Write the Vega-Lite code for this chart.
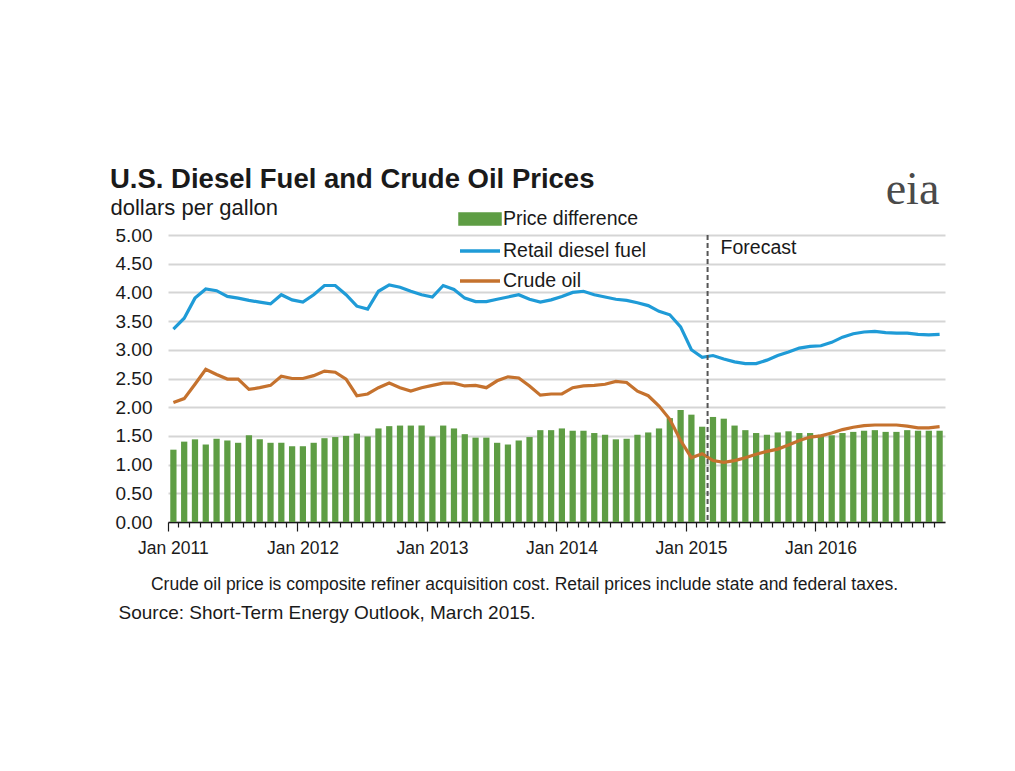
{
  "$schema": "https://vega.github.io/schema/vega-lite/v6.json",
  "width": 777,
  "height": 287,
  "autosize": {"type": "none"},
  "padding": {"left": 168, "top": 235, "right": 70, "bottom": 249},
  "background": "white",
  "config": {"font": "Liberation Sans", "view": {"stroke": null}},
  "title": {
    "text": "U.S. Diesel Fuel and Crude Oil Prices",
    "anchor": "start",
    "frame": "group",
    "dx": -58,
    "offset": -27,
    "font": "Liberation Sans",
    "fontSize": 27.5,
    "fontWeight": "bold",
    "color": "#1a1a1a"
  },
  "datasets": {
    "prices": [
      {"m": "2011-01", "diff": 1.26, "retail": 3.36, "crude": 2.08},
      {"m": "2011-02", "diff": 1.40, "retail": 3.55, "crude": 2.15},
      {"m": "2011-03", "diff": 1.44, "retail": 3.90, "crude": 2.40},
      {"m": "2011-04", "diff": 1.35, "retail": 4.06, "crude": 2.66},
      {"m": "2011-05", "diff": 1.45, "retail": 4.03, "crude": 2.57},
      {"m": "2011-06", "diff": 1.42, "retail": 3.93, "crude": 2.49},
      {"m": "2011-07", "diff": 1.38, "retail": 3.90, "crude": 2.49},
      {"m": "2011-08", "diff": 1.51, "retail": 3.86, "crude": 2.31},
      {"m": "2011-09", "diff": 1.44, "retail": 3.83, "crude": 2.34},
      {"m": "2011-10", "diff": 1.38, "retail": 3.80, "crude": 2.38},
      {"m": "2011-11", "diff": 1.38, "retail": 3.96, "crude": 2.54},
      {"m": "2011-12", "diff": 1.32, "retail": 3.87, "crude": 2.50},
      {"m": "2012-01", "diff": 1.32, "retail": 3.83, "crude": 2.50},
      {"m": "2012-02", "diff": 1.38, "retail": 3.96, "crude": 2.55},
      {"m": "2012-03", "diff": 1.46, "retail": 4.12, "crude": 2.63},
      {"m": "2012-04", "diff": 1.48, "retail": 4.12, "crude": 2.61},
      {"m": "2012-05", "diff": 1.50, "retail": 3.96, "crude": 2.49},
      {"m": "2012-06", "diff": 1.54, "retail": 3.76, "crude": 2.20},
      {"m": "2012-07", "diff": 1.49, "retail": 3.71, "crude": 2.23},
      {"m": "2012-08", "diff": 1.63, "retail": 4.02, "crude": 2.34},
      {"m": "2012-09", "diff": 1.67, "retail": 4.13, "crude": 2.42},
      {"m": "2012-10", "diff": 1.68, "retail": 4.09, "crude": 2.34},
      {"m": "2012-11", "diff": 1.68, "retail": 4.02, "crude": 2.28},
      {"m": "2012-12", "diff": 1.68, "retail": 3.96, "crude": 2.34},
      {"m": "2013-01", "diff": 1.49, "retail": 3.92, "crude": 2.38},
      {"m": "2013-02", "diff": 1.68, "retail": 4.12, "crude": 2.42},
      {"m": "2013-03", "diff": 1.63, "retail": 4.05, "crude": 2.42},
      {"m": "2013-04", "diff": 1.53, "retail": 3.90, "crude": 2.37},
      {"m": "2013-05", "diff": 1.47, "retail": 3.84, "crude": 2.38},
      {"m": "2013-06", "diff": 1.47, "retail": 3.84, "crude": 2.34},
      {"m": "2013-07", "diff": 1.38, "retail": 3.88, "crude": 2.46},
      {"m": "2013-08", "diff": 1.35, "retail": 3.92, "crude": 2.53},
      {"m": "2013-09", "diff": 1.42, "retail": 3.96, "crude": 2.51},
      {"m": "2013-10", "diff": 1.48, "retail": 3.88, "crude": 2.37},
      {"m": "2013-11", "diff": 1.60, "retail": 3.83, "crude": 2.21},
      {"m": "2013-12", "diff": 1.60, "retail": 3.87, "crude": 2.23},
      {"m": "2014-01", "diff": 1.63, "retail": 3.93, "crude": 2.23},
      {"m": "2014-02", "diff": 1.59, "retail": 4.00, "crude": 2.34},
      {"m": "2014-03", "diff": 1.59, "retail": 4.02, "crude": 2.37},
      {"m": "2014-04", "diff": 1.55, "retail": 3.96, "crude": 2.38},
      {"m": "2014-05", "diff": 1.52, "retail": 3.92, "crude": 2.40},
      {"m": "2014-06", "diff": 1.44, "retail": 3.88, "crude": 2.45},
      {"m": "2014-07", "diff": 1.45, "retail": 3.86, "crude": 2.43},
      {"m": "2014-08", "diff": 1.52, "retail": 3.82, "crude": 2.28},
      {"m": "2014-09", "diff": 1.56, "retail": 3.77, "crude": 2.20},
      {"m": "2014-10", "diff": 1.63, "retail": 3.67, "crude": 2.02},
      {"m": "2014-11", "diff": 1.81, "retail": 3.61, "crude": 1.79},
      {"m": "2014-12", "diff": 1.95, "retail": 3.40, "crude": 1.42},
      {"m": "2015-01", "diff": 1.87, "retail": 3.00, "crude": 1.12},
      {"m": "2015-02", "diff": 1.66, "retail": 2.87, "crude": 1.19},
      {"m": "2015-03", "diff": 1.83, "retail": 2.90, "crude": 1.07},
      {"m": "2015-04", "diff": 1.80, "retail": 2.84, "crude": 1.04},
      {"m": "2015-05", "diff": 1.68, "retail": 2.79, "crude": 1.07},
      {"m": "2015-06", "diff": 1.60, "retail": 2.76, "crude": 1.12},
      {"m": "2015-07", "diff": 1.55, "retail": 2.76, "crude": 1.18},
      {"m": "2015-08", "diff": 1.52, "retail": 2.82, "crude": 1.23},
      {"m": "2015-09", "diff": 1.56, "retail": 2.90, "crude": 1.27},
      {"m": "2015-10", "diff": 1.58, "retail": 2.96, "crude": 1.34},
      {"m": "2015-11", "diff": 1.55, "retail": 3.03, "crude": 1.42},
      {"m": "2015-12", "diff": 1.55, "retail": 3.06, "crude": 1.48},
      {"m": "2016-01", "diff": 1.52, "retail": 3.07, "crude": 1.50},
      {"m": "2016-02", "diff": 1.51, "retail": 3.13, "crude": 1.55},
      {"m": "2016-03", "diff": 1.55, "retail": 3.22, "crude": 1.61},
      {"m": "2016-04", "diff": 1.57, "retail": 3.28, "crude": 1.65},
      {"m": "2016-05", "diff": 1.59, "retail": 3.31, "crude": 1.68},
      {"m": "2016-06", "diff": 1.60, "retail": 3.32, "crude": 1.69},
      {"m": "2016-07", "diff": 1.57, "retail": 3.30, "crude": 1.69},
      {"m": "2016-08", "diff": 1.57, "retail": 3.29, "crude": 1.69},
      {"m": "2016-09", "diff": 1.60, "retail": 3.29, "crude": 1.67},
      {"m": "2016-10", "diff": 1.59, "retail": 3.27, "crude": 1.64},
      {"m": "2016-11", "diff": 1.59, "retail": 3.26, "crude": 1.64},
      {"m": "2016-12", "diff": 1.59, "retail": 3.27, "crude": 1.66}
    ]
  },
  "layer": [
    {
      "data": {"name": "prices"},
      "transform": [
        {"fold": ["diff", "retail", "crude"], "as": ["key", "price"]},
        {"filter": "datum.key === 'diff'"}
      ],
      "mark": {"type": "bar", "width": {"band": 0.58}},
      "encoding": {
        "x": {
          "field": "m",
          "type": "ordinal",
          "scale": {"paddingInner": 0, "paddingOuter": 0},
          "axis": {
            "bandPosition": 0,
            "labelExpr": "slice(datum.value, 5) == '01' ? 'Jan ' + slice(datum.value, 0, 4) : ''",
            "labelAngle": 0,
            "labelOverlap": false,
            "labelFontSize": 17.5,
            "labelColor": "#1a1a1a",
            "labelPadding": 8,
            "labelBaseline": "top",
            "tickSize": {"condition": {"test": "slice(datum.value, 5) == '01'", "value": 9}, "value": 5},
            "tickColor": "#1a1a1a",
            "tickWidth": 1.2,
            "domainColor": "#1a1a1a",
            "domainWidth": 1.5,
            "grid": false,
            "title": "Crude oil price is composite refiner acquisition cost.  Retail prices include state and federal taxes.",
            "titleFontSize": 17.5,
            "titleFontWeight": "normal",
            "titleColor": "#1a1a1a",
            "titleX": 356,
            "titleY": 67,
            "titleAlign": "center",
            "titleBaseline": "alphabetic"
          }
        },
        "y": {
          "field": "price",
          "type": "quantitative",
          "scale": {"domain": [0, 5], "nice": false},
          "axis": {
            "values": [0, 0.5, 1, 1.5, 2, 2.5, 3, 3.5, 4, 4.5, 5],
            "format": ".2f",
            "domain": false,
            "ticks": false,
            "tickSize": 0,
            "labelPadding": 16,
            "labelFontSize": 19,
            "labelColor": "#1a1a1a",
            "grid": true,
            "gridColor": "#d5d5d5",
            "gridWidth": 2,
            "title": "dollars per gallon",
            "titleAngle": 0,
            "titleAlign": "left",
            "titleBaseline": "alphabetic",
            "titleX": -58,
            "titleY": -21,
            "titleFontSize": 22,
            "titleFontWeight": "normal",
            "titleColor": "#1a1a1a"
          }
        },
        "color": {
          "field": "key",
          "type": "nominal",
          "scale": {"domain": ["diff", "retail", "crude"], "range": ["#5e9d44", "#1f9bd7", "#c5722e"]},
          "legend": {
            "orient": "none",
            "legendX": 300,
            "legendY": -28,
            "direction": "vertical",
            "title": null,
            "padding": 0,
            "symbolSize": 400,
            "labelOffset": 11,
            "rowPadding": 8,
            "labelFont": "Liberation Sans",
            "labelFontSize": 19.5,
            "labelColor": "#1a1a1a",
            "labelExpr": "datum.label == 'diff' ? 'Price difference' : datum.label == 'retail' ? 'Retail diesel fuel' : 'Crude oil'",
            "encode": {
              "symbols": {
                "update": {
                  "shape": {"signal": "datum.value === 'diff' ? 'M-2,-0.5H2V0.5H-2Z' : 'M-2,0H2'"},
                  "fill": {"signal": "datum.value === 'diff' ? '#5e9d44' : 'transparent'"},
                  "stroke": {"signal": "datum.value === 'diff' ? 'transparent' : (datum.value === 'retail' ? '#1f9bd7' : '#c5722e')"},
                  "strokeWidth": {"value": 3.5},
                  "opacity": {"value": 1}
                }
              }
            }
          }
        }
      }
    },
    {
      "data": {"name": "prices"},
      "transform": [
        {"fold": ["diff", "retail", "crude"], "as": ["key", "price"]},
        {"filter": "datum.key !== 'diff'"}
      ],
      "mark": {"type": "line", "strokeWidth": 3.2},
      "encoding": {
        "x": {"field": "m", "type": "ordinal", "axis": null},
        "y": {"field": "price", "type": "quantitative", "axis": null},
        "color": {"field": "key", "type": "nominal"}
      }
    },
    {
      "data": {"values": [{"label": "Forecast", "start": "2015-03", "level": 4.77}]},
      "mark": {"type": "rule", "color": "#555555", "strokeWidth": 2, "strokeDash": [5, 3]},
      "encoding": {
        "x": {"field": "start", "type": "ordinal", "bandPosition": 0, "axis": null}
      }
    },
    {
      "data": {"values": [{"label": "Forecast", "start": "2015-03", "level": 4.77}]},
      "mark": {"type": "text", "align": "left", "baseline": "middle", "dx": 13, "fontSize": 19.5, "color": "#1a1a1a"},
      "encoding": {
        "x": {
          "field": "start",
          "type": "ordinal",
          "bandPosition": 0,
          "axis": {
            "orient": "bottom",
            "domain": false,
            "ticks": false,
            "labels": false,
            "grid": false,
            "title": "Source: Short-Term Energy Outlook, March 2015.",
            "titleX": -50,
            "titleY": 96,
            "titleAlign": "left",
            "titleBaseline": "alphabetic",
            "titleFontSize": 19,
            "titleFontWeight": "normal",
            "titleColor": "#1a1a1a"
          }
        },
        "y": {
          "field": "level",
          "type": "quantitative",
          "axis": {
            "orient": "right",
            "domain": false,
            "ticks": false,
            "labels": false,
            "grid": false,
            "title": "eia",
            "titleAngle": 0,
            "titleX": -33,
            "titleY": -32,
            "titleAlign": "center",
            "titleBaseline": "alphabetic",
            "titleFont": "Liberation Serif",
            "titleFontSize": 46,
            "titleFontWeight": "normal",
            "titleColor": "#4a4a4a"
          }
        },
        "text": {"field": "label"}
      }
    }
  ],
  "resolve": {"axis": {"x": "independent", "y": "independent"}}
}
